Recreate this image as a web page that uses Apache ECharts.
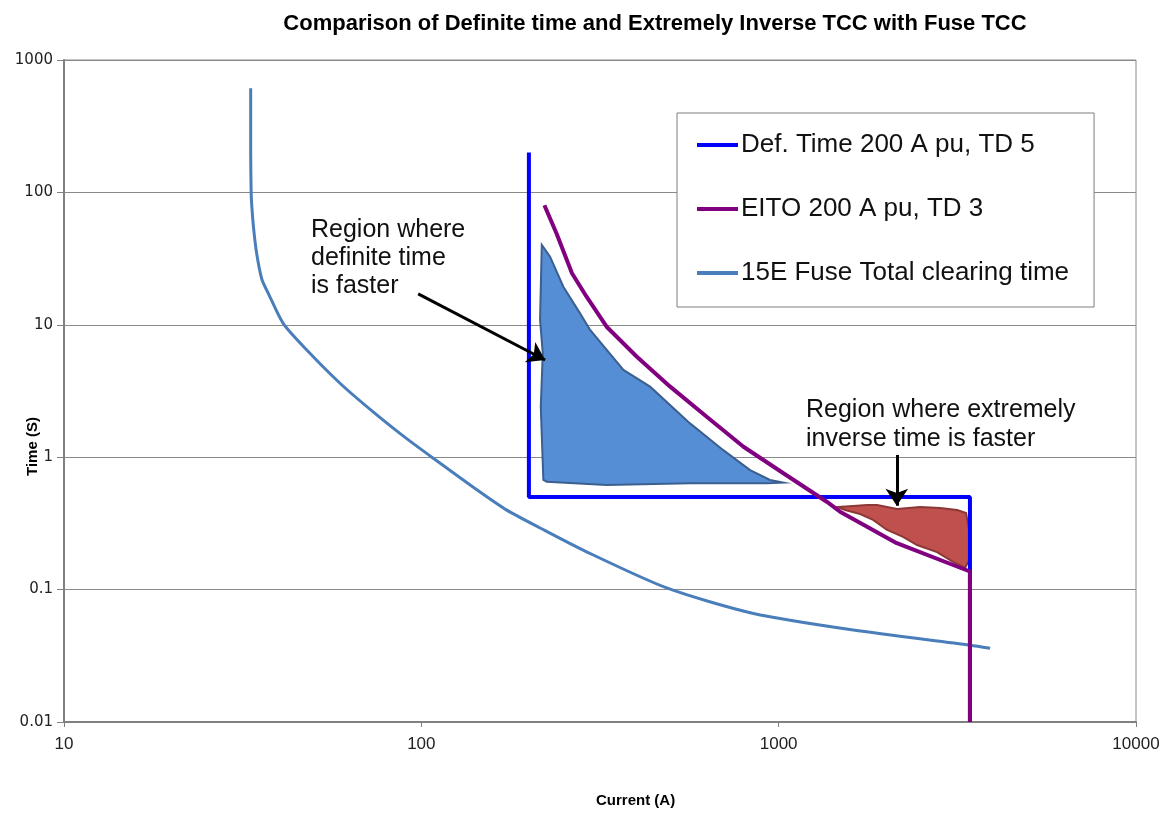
<!DOCTYPE html>
<html>
<head>
<meta charset="utf-8">
<script src="https://cdn.jsdelivr.net/npm/echarts@6/dist/echarts.min.js"></script>
<style>
html,body{margin:0;padding:0;background:#fff;}
#chart{width:1164px;height:813px;}
</style>
</head>
<body>
<div id="chart"></div>
<script>
// ---- data ----
const xTickLabels = ['10', '100', '1000', '10000'];
const yTickLabels = ['0.01', '0.1', '1', '10', '100', '1000'];

const seriesNames = ['Def. Time 200 A pu, TD 5', 'EITO 200 A pu, TD 3', '15E Fuse Total clearing time'];

const defX = [200, 200, 3430, 3430];
const defY = [200, 0.5, 0.5, 0.01];

const eitoX = [221, 239, 264, 290, 330, 401, 497, 629, 797, 1031, 1363, 1485, 2141, 3430, 3430];
const eitoY = [80, 49, 24.5, 16.3, 9.67, 5.74, 3.41, 2.02, 1.20, 0.756, 0.461, 0.388, 0.224, 0.137, 0.01];

const fuseX = [33.3, 33.3, 33.4, 33.5, 33.9, 34.6, 35.8, 37.3, 41.1, 47.8, 59.2, 73.3, 91, 107, 139.5, 173, 215, 290, 486, 850, 1618, 3434, 3906];
const fuseY = [611, 200, 100, 82.7, 55, 34.7, 22, 17.3, 10.2, 6.45, 3.62, 2.2, 1.38, 1.0, 0.595, 0.40, 0.292, 0.193, 0.103, 0.066, 0.0495, 0.038, 0.036];

// shaded region: definite time faster
const regDefX = [217.3, 229.2, 249.7, 278.1, 296.7, 367.7, 436.6, 564.9, 700, 831.8, 946, 1031, 926, 564.9, 330.2, 224.4, 219.5, 215.9, 218.7, 214.9];
const regDefY = [40.1, 32.7, 19.4, 12.2, 9.14, 4.56, 3.41, 1.80, 1.13, 0.80, 0.673, 0.642, 0.635, 0.635, 0.617, 0.653, 0.673, 2.41, 6.09, 10.9];

// shaded region: extremely inverse faster
const regEiX = [1467, 1615, 1768, 1886, 2145, 2488, 2829, 3158, 3345, 3411, 3411, 3324, 3077, 2775, 2440, 2229, 2011, 1838, 1690, 1534];
const regEiY = [0.42, 0.428, 0.436, 0.436, 0.406, 0.42, 0.413, 0.399, 0.379, 0.282, 0.167, 0.146, 0.162, 0.192, 0.217, 0.25, 0.282, 0.336, 0.372, 0.399];

// annotation arrows [x0, y0, x1, y1] in data units
const arrowDef = [98, 17.1, 222, 5.42];
const arrowEi = [2141, 1.04, 2141, 0.43];

const annDef = 'Region where\ndefinite time\nis faster';
const annEi = 'Region where extremely\ninverse time is faster';

// ---- chart ----
const chart = echarts.init(document.getElementById('chart'));
const zip = (xs, ys) => xs.map((x, i) => [x, ys[i]]);

function polygonSeries(xs, ys, fill, stroke) {
  return {
    type: 'custom',
    z: 1,
    silent: true,
    clip: true,
    data: [[xs[0], ys[0]]],
    renderItem: function (params, api) {
      const pts = xs.map((x, i) => api.coord([x, ys[i]]));
      return {
        type: 'polygon',
        shape: { points: pts },
        style: { fill: fill, stroke: stroke, lineWidth: 2 }
      };
    }
  };
}

function labelFrom(list) {
  return function (v) {
    const lg = Math.round(Math.log10(v));
    const found = list.find(s => Math.abs(Math.log10(parseFloat(s)) - lg) < 1e-6);
    return found !== undefined ? found : '';
  };
}

const option = {
  animation: false,
  backgroundColor: '#ffffff',
  title: {
    text: 'Comparison of Definite time and Extremely Inverse TCC with Fuse TCC',
    left: 650,
    top: 8,
    textAlign: 'center',
    textStyle: { fontFamily: 'Liberation Sans, Arial, sans-serif', fontWeight: 'bold', fontSize: 22, color: '#000' }
  },
  grid: {
    left: 64, right: 28, top: 60, bottom: 91,
    show: true, borderColor: '#8a8a8a', borderWidth: 1, backgroundColor: 'transparent'
  },
  legend: {
    orient: 'vertical',
    left: 677, top: 113,
    data: seriesNames,
    icon: 'rect',
    itemWidth: 41, itemHeight: 4,
    itemGap: 38,
    padding: [19, 25, 21, 20],
    borderColor: '#7f7f7f', borderWidth: 1,
    backgroundColor: '#ffffff',
    textStyle: { fontFamily: 'Liberation Sans, Arial, sans-serif', fontSize: 26, color: '#111', padding: [0, 0, 0, -2] }
  },
  xAxis: {
    type: 'log', logBase: 10, min: 10, max: 10000,
    axisLine: { show: true, lineStyle: { color: '#808080', width: 2 } },
    axisTick: { show: true, length: 5, lineStyle: { color: '#808080', width: 1 } },
    minorTick: { show: false },
    splitLine: { show: false },
    axisLabel: { fontFamily: 'Liberation Sans, Arial, sans-serif', fontSize: 17, color: '#222', margin: 14, formatter: labelFrom(xTickLabels) }
  },
  yAxis: {
    type: 'log', logBase: 10, min: 0.01, max: 1000,
    axisLine: { show: true, lineStyle: { color: '#808080', width: 2 } },
    axisTick: { show: true, length: 7, lineStyle: { color: '#808080', width: 1 } },
    minorTick: { show: false },
    splitLine: { show: true, lineStyle: { color: '#8a8a8a', width: 1 } },
    axisLabel: { fontFamily: 'DejaVu Sans, sans-serif', fontSize: 15, color: '#222', margin: 11, formatter: labelFrom(yTickLabels) }
  },
  graphic: [
    { type: 'text', left: 596, top: 793, style: { text: 'Current (A)', font: 'bold 15px "Liberation Sans", Arial, sans-serif', fill: '#000' } },
    { type: 'text', x: 25, y: 476, rotation: Math.PI / 2, style: { text: 'Time (S)', font: 'bold 15px "Liberation Sans", Arial, sans-serif', fill: '#000' } },
    { type: 'text', left: 311, top: 216, z: 10, style: { text: annDef, font: '25px "Liberation Sans", Arial, sans-serif', fill: '#111', lineHeight: 28 } },
    { type: 'text', left: 806, top: 396, z: 10, style: { text: annEi, font: '25px "Liberation Sans", Arial, sans-serif', fill: '#111', lineHeight: 29 } }
  ],
  series: [
    polygonSeries(regDefX, regDefY, '#558ed5', '#3b5f8f'),
    polygonSeries(regEiX, regEiY, '#c0504d', '#8c3836'),
    {
      name: seriesNames[0], type: 'line', z: 3,
      data: zip(defX, defY), showSymbol: false, symbol: 'none',
      lineStyle: { color: '#0000ff', width: 4 }, itemStyle: { color: '#0000ff' },
      markLine: {
        silent: true, z: 10,
        symbol: ['none', 'arrow'], symbolSize: 17,
        label: { show: false },
        lineStyle: { color: '#000', width: 3, type: 'solid' },
        itemStyle: { color: '#000' },
        data: [
          [{ coord: [arrowDef[0], arrowDef[1]] }, { coord: [arrowDef[2], arrowDef[3]] }],
          [{ coord: [arrowEi[0], arrowEi[1]] }, { coord: [arrowEi[2], arrowEi[3]] }]
        ]
      }
    },
    {
      name: seriesNames[1], type: 'line', z: 4,
      data: zip(eitoX, eitoY), showSymbol: false, symbol: 'none',
      lineStyle: { color: '#800080', width: 4 }, itemStyle: { color: '#800080' }
    },
    {
      name: seriesNames[2], type: 'line', z: 2, smooth: 0.25,
      data: zip(fuseX, fuseY), showSymbol: false, symbol: 'none',
      lineStyle: { color: '#4a7ebb', width: 3 }, itemStyle: { color: '#4a7ebb' }
    }
  ]
};
chart.setOption(option);
</script>
</body>
</html>
